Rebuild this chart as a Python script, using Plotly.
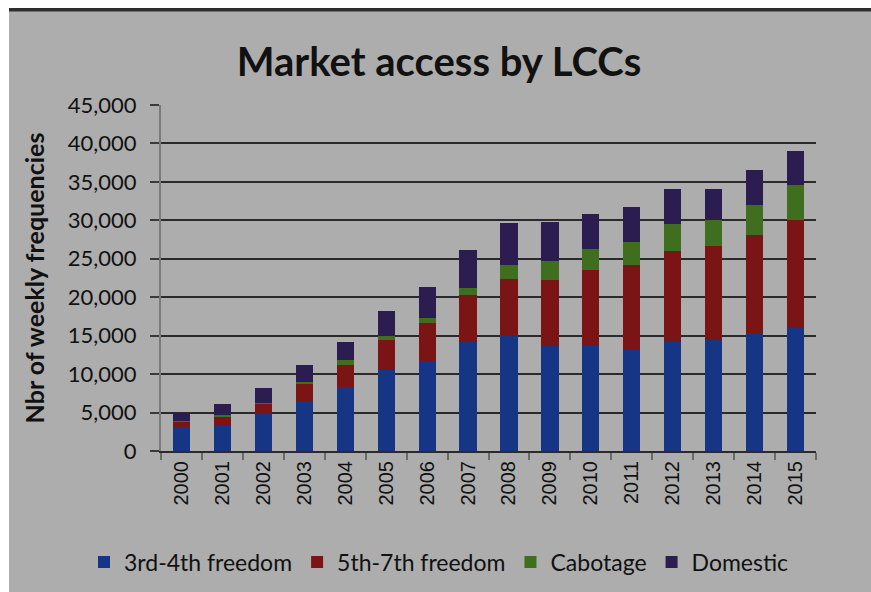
import plotly.graph_objects as go

# Weekly frequencies operated by low-cost carriers, by traffic right
years = [str(y) for y in range(2000, 2016)]
freedom_3_4 = [3100, 3400, 4850, 6500, 8300, 10500, 11700, 14150, 14950, 13650, 13750, 13300, 14150, 14450, 15400, 16050]
freedom_5_7 = [800, 1150, 1300, 2150, 2900, 3950, 5000, 6100, 7450, 8550, 9850, 10950, 11850, 12200, 12650, 14000]
cabotage = [50, 100, 150, 350, 700, 500, 650, 950, 1850, 2500, 2700, 2950, 3550, 3450, 3900, 4500]
domestic = [1000, 1400, 1850, 2200, 2250, 3300, 4000, 4900, 5400, 5050, 4550, 4500, 4550, 4000, 4600, 4500]

series = [
    ("3rd-4th freedom", freedom_3_4, "#173585"),
    ("5th-7th freedom", freedom_5_7, "#7b1414"),
    ("Cabotage", cabotage, "#3f6e1f"),
    ("Domestic", domestic, "#2b1d4f"),
]

BG = "#adadad"
INK = "#111111"

fig = go.Figure()
for name, vals, color in series:
    fig.add_trace(go.Bar(x=years, y=vals, name=name,
                         marker=dict(color=color, line=dict(width=0))))

# plot area geometry in pixels
L, T, W, H = 161, 105, 655, 346
FW, FH = 871, 592


def px_x(p):
    return (p - L) / W


def px_y(p):
    return (T + H - p) / H


shapes = [
    # white edge on the left and top of the frame
    dict(type="rect", xref="paper", yref="paper", x0=px_x(0), x1=px_x(9),
         y0=px_y(FH), y1=px_y(0), fillcolor="white", line=dict(width=0), layer="below"),
    dict(type="rect", xref="paper", yref="paper", x0=px_x(0), x1=px_x(FW),
         y0=px_y(8), y1=px_y(0), fillcolor="white", line=dict(width=0), layer="below"),
    # dark band along the top
    dict(type="rect", xref="paper", yref="paper", x0=px_x(9), x1=px_x(FW),
         y0=px_y(11.5), y1=px_y(8), fillcolor="#2e2e2e", line=dict(width=0), layer="below"),
]

fig.update_layout(
    width=FW, height=FH,
    margin=dict(l=L, r=FW - L - W, t=T, b=FH - T - H, autoexpand=False),
    paper_bgcolor=BG, plot_bgcolor=BG,
    barmode="stack", bargap=0.58,
    font=dict(family="Lato", color=INK),
    title=dict(text="<b>Market access by LCCs</b>", x=439 / FW, xref="container",
               xanchor="center", y=1 - 62 / FH, yref="container", yanchor="middle",
               font=dict(family="Lato", size=40, color=INK)),
    shapes=shapes,
    showlegend=True,
    legend=dict(orientation="h", x=px_x(84), xanchor="left", y=px_y(562), yanchor="middle",
                font=dict(family="Lato", size=23, color=INK), bgcolor="rgba(0,0,0,0)",
                itemclick=False, traceorder="normal"),
)

fig.update_yaxes(
    range=[0, 45000], dtick=5000, tickformat=",",
    showgrid=True, gridcolor="#2a2a2a", gridwidth=2,
    showline=True, linecolor="#7a7a7a", linewidth=2,
    ticks="outside", ticklen=9, tickcolor="#3a3a3a", tickwidth=2,
    ticklabelstandoff=9,
    tickfont=dict(family="Lato", size=22, color=INK),
    zeroline=False,
    title=dict(text="<b>Nbr of weekly frequencies</b>", standoff=16,
               font=dict(family="Lato", size=25, color=INK)),
)

fig.update_xaxes(
    type="category", tickangle=-90,
    showline=True, linecolor="#2a2a2a", linewidth=2,
    ticks="outside", tickson="boundaries", ticklen=7, tickcolor="#6a6a6a", tickwidth=2,
    tickfont=dict(family="Liberation Sans", size=20, color=INK),
    showgrid=False,
)

# page without margins or scrollbars, same grey behind the figure
fig.write_html(
    "out.html",
    post_script="document.body.style.margin='0';"
                "document.documentElement.style.overflow='hidden';"
                "document.body.style.overflow='hidden';"
                "document.documentElement.style.background='" + BG + "';"
                "document.body.style.background='" + BG + "';",
)
